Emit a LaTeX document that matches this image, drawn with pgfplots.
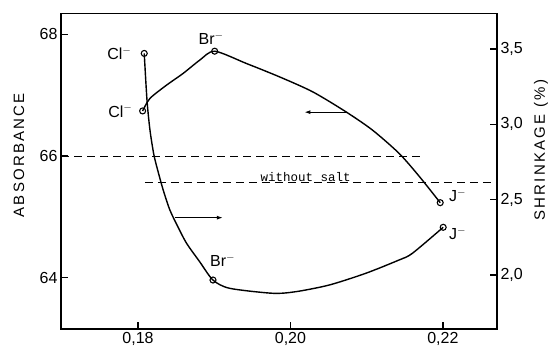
\documentclass[border=0pt]{standalone}
\usepackage{fontspec}
\setmainfont{Liberation Sans}
\newfontfamily\labfont[LetterSpace=15]{Liberation Sans}
\newfontfamily\monofont{Liberation Mono}
\usepackage{pgfplots}
\pgfplotsset{compat=1.18}
\usepackage{pgfplotstable}
\usetikzlibrary{arrows.meta}

\pgfplotstableread{
x y
0.18061 66.740
0.18157 66.946
0.18375 67.164
0.18592 67.356
0.18810 67.574
0.19006 67.721
0.19421 67.520
0.19856 67.300
0.20292 67.054
0.20728 66.726
0.21076 66.426
0.21425 66.044
0.21686 65.672
0.21965 65.234
}\absdata

\pgfplotstableread{
x y
0.18082 3.471
0.18118 3.162
0.18157 2.963
0.18209 2.797
0.18265 2.684
0.18331 2.564
0.18418 2.432
0.18523 2.321
0.18637 2.211
0.18810 2.088
0.18984 1.967
0.19203 1.912
0.19769 1.879
0.20075 1.890
0.20510 1.934
0.20990 2.012
0.21425 2.100
0.21599 2.144
0.22004 2.317
}\shrdata

\newcommand{\fs}{\fontsize{16}{18}\selectfont}

\begin{document}
\begin{tikzpicture}
\pgfplotsset{
  every axis/.append style={
    width=436pt, height=315.5pt, scale only axis,
    xmin=0.1699, xmax=0.2271,
    clip=false,
    axis line style={line width=1.5pt},
    every tick/.style={line width=1.3pt, black},
    major tick length=7pt,
    tick label style={font=\fs},
  },
}
\begin{axis}[name=ax1,
  ymin=63.16, ymax=68.34,
  xtick={0.18,0.20,0.22},
  xticklabels={{0,18},{0,20},{0,22}},
  ytick={64,66,68},
  yticklabels={64,66,68},
  xtick pos=bottom, ytick pos=left,
]
\addplot[black, line width=1.4pt, smooth, tension=0.45] table {\absdata};
\addplot[black, only marks, mark=o, mark size=3pt, line width=1.1pt, mark options={fill=white}]
  coordinates {(0.18061,66.740) (0.19006,67.721) (0.21965,65.234)};
\addplot[black, line width=0.9pt, dash pattern=on 8pt off 5pt] coordinates {(0.1699,66.0) (0.2171,66.0)};
\draw[line width=1.1pt, -{Latex[length=6pt,width=4pt]}] (axis cs:0.20728,66.72) -- (axis cs:0.20183,66.72);
\node[font=\monofont\fontsize{12.5}{14}\selectfont] at (axis cs:0.2020,65.66) {without salt};
\node[font=\fs, inner sep=0pt, anchor=east] at (axis cs:0.18061,66.740) [xshift=-10pt] {Cl$^-$};
\node[font=\fs, inner sep=0pt, anchor=south] at (axis cs:0.19006,67.721) [xshift=-3.5pt, yshift=6pt] {Br$^-$};
\node[font=\fs, inner sep=0pt, anchor=west] at (axis cs:0.21965,65.234) [xshift=8.7pt, yshift=7pt] {J$^-$};
\node[font=\labfont\fontsize{15}{17}\selectfont, xshift=-42pt, yshift=16pt, rotate=90] at (rel axis cs:0,0.5) {ABSORBANCE};
\end{axis}
\begin{axis}[
  ymin=1.642, ymax=3.736,
  axis x line=none,
  axis y line*=right,
  ytick={2,2.5,3,3.5},
  yticklabels={{2,0},{2,5},{3,0},{3,5}},
]
\addplot[black, line width=1.4pt, smooth, tension=0.45] table {\shrdata};
\addplot[black, only marks, mark=o, mark size=3pt, line width=1.1pt, mark options={fill=white}]
  coordinates {(0.18082,3.471) (0.18984,1.967) (0.22004,2.317)};
\addplot[black, line width=0.9pt, dash pattern=on 8pt off 5pt] coordinates {(0.1809,2.613) (0.2271,2.613)};
\draw[line width=1.1pt, -{Latex[length=6pt,width=4pt]}] (axis cs:0.18483,2.381) -- (axis cs:0.19114,2.381);
\node[font=\fs, inner sep=0pt, anchor=east] at (axis cs:0.18082,3.471) [xshift=-12.6pt] {Cl$^-$};
\node[font=\fs, inner sep=0pt, anchor=south west] at (axis cs:0.18984,1.967) [xshift=-3pt, yshift=13pt] {Br$^-$};
\node[font=\fs, inner sep=0pt, anchor=west] at (axis cs:0.22004,2.317) [xshift=5.7pt, yshift=-6pt] {J$^-$};
\node[font=\labfont\fontsize{15}{17}\selectfont, xshift=44pt, yshift=21pt, rotate=90] at (rel axis cs:1,0.5) {SHRINKAGE (\%)};
\end{axis}
\pgfresetboundingbox
\path[use as bounding box] (ax1.south west) ++(-61pt,-21pt) rectangle ++(554pt,350pt);
\end{tikzpicture}
\end{document}
